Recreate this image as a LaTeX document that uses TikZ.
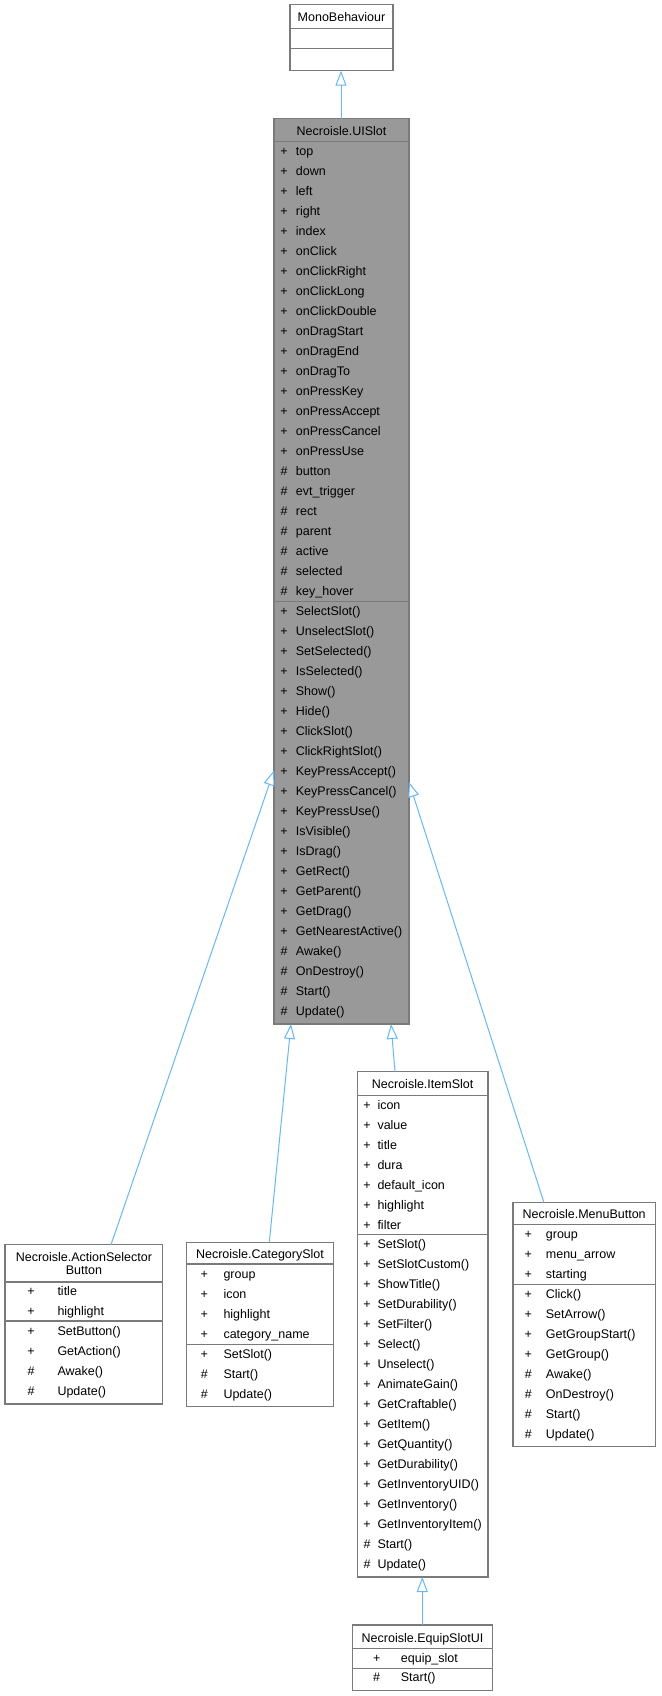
\documentclass[tikz,border=0pt]{standalone}
\usepackage{fontspec}
\setmainfont{Liberation Sans}
\usetikzlibrary{arrows.meta}
\definecolor{edgeblue}{HTML}{63B8FF}
\definecolor{boxline}{HTML}{7A7A7A}
\definecolor{hlfill}{HTML}{999999}
\newcommand\classrows[5]{%
  \foreach \m/\t [count=\i from 0] in {#5} {
    \node[mk] (#1m\i) at (#2, {#4+20*\i+4.5}) {\m};
    \node[txt] (#1t\i) at (#3, {#4+20*\i+4.5}) {\t};
  }}
\begin{document}
\begin{tikzpicture}[x=1pt,y=-1pt,
  cls/.style={draw=boxline, line width=1.2pt, rectangle, inner sep=0pt, outer sep=0pt, anchor=north west, fill=white},
  sep/.style={draw=boxline, line width=1.2pt},
  txt/.style={anchor=base west, inner sep=0pt, font=\fontsize{12.5}{15}\selectfont},
  mk/.style={anchor=base, inner sep=0pt, font=\fontsize{12.5}{15}\selectfont},
  ttl/.style={anchor=base, inner sep=0pt, font=\fontsize{12.5}{15}\selectfont},
  inh/.style={draw=edgeblue, line width=1pt, -{Triangle[open, length=15pt, width=11pt, fill=white]}}
]
\useasboundingbox (0,0) rectangle (661,1696);

% ---------- MonoBehaviour ----------
\node[cls, minimum width=103pt, minimum height=66pt] (mono) at (290,4.7) {};
\draw[sep] (mono.west |- 0,28.7) -- (mono.east |- 0,28.7);
\draw[sep] (mono.west |- 0,48.7) -- (mono.east |- 0,48.7);
\node[ttl] (monot) at (341.5,21.8) {MonoBehaviour};

% ---------- Necroisle.UISlot ----------
\node[cls, fill=hlfill, minimum width=135pt, minimum height=905.3pt] (ui) at (274,118.7) {};
\draw[sep] (ui.west |- 0,141.7) -- (ui.east |- 0,141.7);
\draw[sep] (ui.west |- 0,601.7) -- (ui.east |- 0,601.7);
\node[ttl] (uit) at (341.5,135.2) {Necroisle.UISlot};
\classrows{uia}{284}{295.7}{150.7}{+/top,+/down,+/left,+/right,+/index,+/onClick,+/onClickRight,+/onClickLong,+/onClickDouble,+/onDragStart,+/onDragEnd,+/onDragTo,+/onPressKey,+/onPressAccept,+/onPressCancel,+/onPressUse,\#/button,\#/evt\_trigger,\#/rect,\#/parent,\#/active,\#/selected,\#/key\_hover}
\classrows{uio}{284}{295.7}{610.7}{+/SelectSlot(),+/UnselectSlot(),+/SetSelected(),+/IsSelected(),+/Show(),+/Hide(),+/ClickSlot(),+/ClickRightSlot(),+/KeyPressAccept(),+/KeyPressCancel(),+/KeyPressUse(),+/IsVisible(),+/IsDrag(),+/GetRect(),+/GetParent(),+/GetDrag(),+/GetNearestActive(),\#/Awake(),\#/OnDestroy(),\#/Start(),\#/Update()}

% ---------- Necroisle.ActionSelectorButton ----------
\node[cls, minimum width=157.7pt, minimum height=159.3pt] (asb) at (5,1244.7) {};
\draw[sep] (asb.west |- 0,1282) -- (asb.east |- 0,1282);
\draw[sep] (asb.west |- 0,1321) -- (asb.east |- 0,1321);
\node[ttl] (asbt1) at (83.9,1261.2) {Necroisle.ActionSelector};
\node[ttl] (asbt2) at (83.9,1274.8) {Button};
\classrows{asba}{31}{57.3}{1290.7}{+/title,+/highlight}
\classrows{asbo}{31}{57.3}{1330.7}{+/SetButton(),+/GetAction(),\#/Awake(),\#/Update()}

% ---------- Necroisle.CategorySlot ----------
\node[cls, minimum width=146.6pt, minimum height=164.4pt] (cat) at (186.7,1242.3) {};
\draw[sep] (cat.west |- 0,1264) -- (cat.east |- 0,1264);
\draw[sep] (cat.west |- 0,1344.3) -- (cat.east |- 0,1344.3);
\node[ttl] (catt) at (260,1258.5) {Necroisle.CategorySlot};
\classrows{cata}{204.3}{223.3}{1273.7}{+/group,+/icon,+/highlight,+/category\_name}
\classrows{cato}{204.3}{223.3}{1353.7}{+/SetSlot(),\#/Start(),\#/Update()}

% ---------- Necroisle.ItemSlot ----------
\node[cls, minimum width=130.7pt, minimum height=505.3pt] (item) at (357.3,1071.7) {};
\draw[sep] (item.west |- 0,1095.3) -- (item.east |- 0,1095.3);
\draw[sep] (item.west |- 0,1234.7) -- (item.east |- 0,1234.7);
\node[ttl] (itemt) at (422.6,1088.5) {Necroisle.ItemSlot};
\classrows{itema}{367}{377.3}{1104.7}{+/icon,+/value,+/title,+/dura,+/default\_icon,+/highlight,+/filter}
\classrows{itemo}{367}{377.3}{1243.7}{+/SetSlot(),+/SetSlotCustom(),+/ShowTitle(),+/SetDurability(),+/SetFilter(),+/Select(),+/Unselect(),+/AnimateGain(),+/GetCraftable(),+/GetItem(),+/GetQuantity(),+/GetDurability(),+/GetInventoryUID(),+/GetInventory(),+/GetInventoryItem(),\#/Start(),\#/Update()}

% ---------- Necroisle.MenuButton ----------
\node[cls, minimum width=142.3pt, minimum height=244pt] (menu) at (513,1202.7) {};
\draw[sep] (menu.west |- 0,1224.3) -- (menu.east |- 0,1224.3);
\draw[sep] (menu.west |- 0,1284.7) -- (menu.east |- 0,1284.7);
\node[ttl] (menut) at (584.2,1218.5) {Necroisle.MenuButton};
\classrows{menua}{528.3}{545.7}{1233.7}{+/group,+/menu\_arrow,+/starting}
\classrows{menuo}{528.3}{545.7}{1293.7}{+/Click(),+/SetArrow(),+/GetGroupStart(),+/GetGroup(),\#/Awake(),\#/OnDestroy(),\#/Start(),\#/Update()}

% ---------- Necroisle.EquipSlotUI ----------
\node[cls, minimum width=140.4pt, minimum height=65.7pt] (equip) at (352.3,1625) {};
\draw[sep] (equip.west |- 0,1648.3) -- (equip.east |- 0,1648.3);
\draw[sep] (equip.west |- 0,1668.3) -- (equip.east |- 0,1668.3);
\node[ttl] (equipt) at (422.5,1642.2) {Necroisle.EquipSlotUI};
\classrows{equipa}{376.7}{400.7}{1657.7}{+/equip\_slot}
\classrows{equipo}{376.7}{400.7}{1677.3}{\#/Start()}

% ---------- inheritance connectors ----------
\coordinate (uiTop) at (341,118.7);
\coordinate (monoBot) at (341,70.7);
\coordinate (uiL) at (274,770.5);
\coordinate (uiR) at (409,782);
\coordinate (uiB1) at (291,1024);
\coordinate (uiB2) at (391,1024);
\coordinate (asbTop) at (111,1244.7);
\coordinate (catTop) at (269.3,1242.3);
\coordinate (itemTop) at (395,1071.7);
\coordinate (menuTop) at (544,1202.7);
\coordinate (itemBot) at (422.3,1577);
\coordinate (equipTop) at (422.3,1625);
\draw[inh] (uiTop) -- (monoBot);
\draw[inh] (asbTop) -- (uiL);
\draw[inh] (catTop) -- (uiB1);
\draw[inh] (itemTop) -- (uiB2);
\draw[inh] (menuTop) -- (uiR);
\draw[inh] (equipTop) -- (itemBot);
\end{tikzpicture}
\end{document}
